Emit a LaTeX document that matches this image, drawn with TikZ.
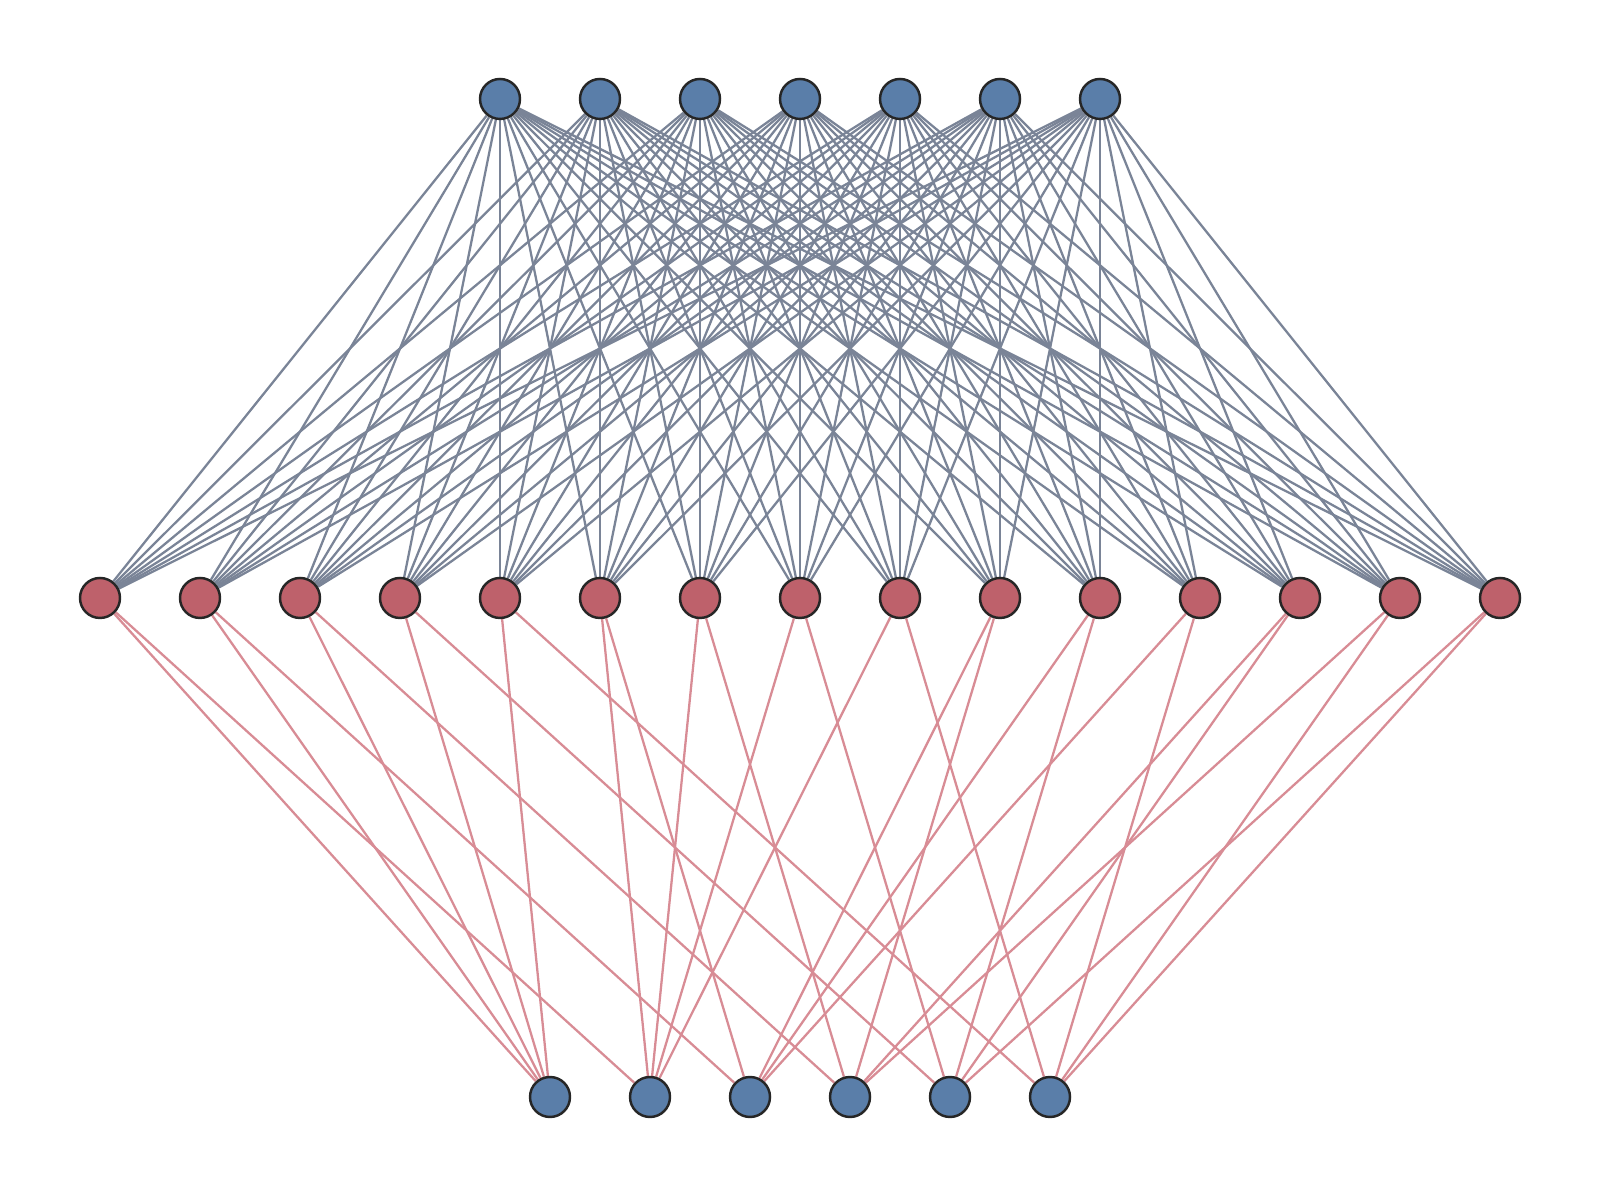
\documentclass[tikz,border=0pt]{standalone}
\usepackage{tikz}
\usetikzlibrary{backgrounds}
\definecolor{nodeblue}{HTML}{5A7EA9}
\definecolor{nodered}{HTML}{BE616B}
\definecolor{edgegray}{HTML}{7A8497}
\definecolor{edgepink}{HTML}{D88C95}

\begin{document}
\begin{tikzpicture}[x=1cm, y=1cm,
every node/.style = {shape=circle, draw=black!85, line width=0.7pt,
    minimum size=0.4cm, inner sep=0pt},
bluenode/.style = {fill=nodeblue},
rednode/.style = {fill=nodered},
upper/.style = {draw=edgegray, line width=0.65pt},
lower/.style = {draw=edgepink, line width=0.65pt}]
\useasboundingbox (0,0) rectangle (16,11.99);
% rows of nodes
\foreach \i in {1,...,7}
  \node [bluenode] (t\i) at (\i+4, 11) {};
\foreach \i in {1,...,15}
  \node [rednode] (m\i) at (\i, 6.01) {};
\foreach \i in {1,...,6}
  \node [bluenode] (b\i) at (\i+4.5, 1.02) {};
% connectors behind the nodes
\begin{scope}[on background layer]
\foreach \i in {1,...,7}
  \foreach \j in {1,...,15}
    \draw [upper] (t\i) -- (m\j);
\foreach \j/\a/\c in {1/1/2, 2/1/3, 3/1/4, 4/1/5, 5/1/6,
    6/2/3, 7/2/4, 8/2/5, 9/2/6, 10/3/4,
    11/3/5, 12/3/6, 13/4/5, 14/4/6, 15/5/6}
  {
  \draw [lower] (m\j) -- (b\a);
  \draw [lower] (m\j) -- (b\c);
  }
\end{scope}
\end{tikzpicture}
\end{document}
